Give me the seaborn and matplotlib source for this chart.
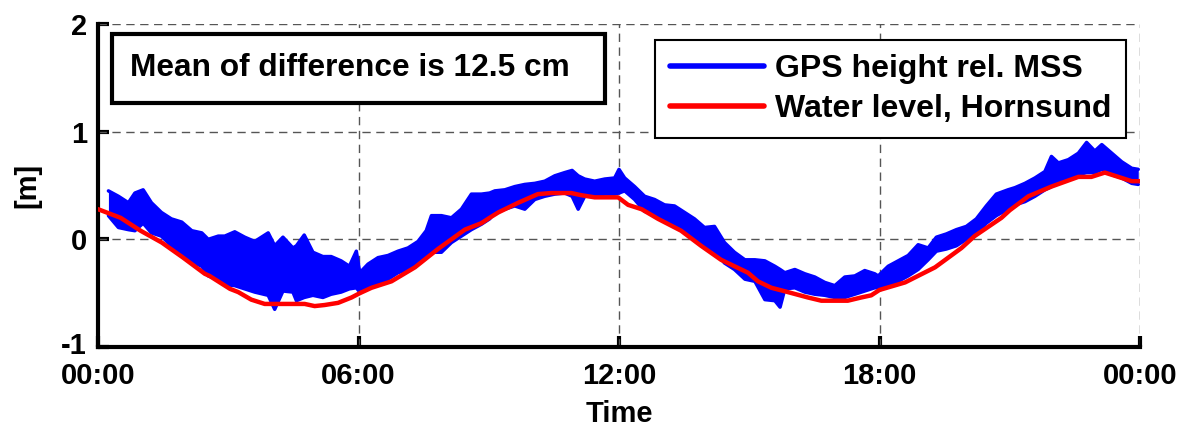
import numpy as np
import pandas as pd
import matplotlib
matplotlib.use("Agg")
import matplotlib.pyplot as plt
from matplotlib.lines import Line2D
from matplotlib.patches import Rectangle
from matplotlib.transforms import ScaledTranslation
import seaborn as sns

# ---------------- data ----------------
# Water level, Hornsund (hours since 00:00, metres)
water_hours = [0.00, 0.52, 0.98, 1.47, 1.96, 2.46, 2.57, 3.04, 3.23, 3.53, 3.84, 4.76,
               4.99, 5.22, 5.53, 5.84, 6.03, 6.30, 6.76, 7.30, 7.83, 8.45, 8.83, 9.02,
               9.22, 9.68, 10.13, 10.44, 10.90, 11.13, 11.44, 11.98, 12.21, 12.52, 12.90,
               13.43, 13.89, 14.35, 14.97, 15.20, 15.51, 15.89, 16.35, 16.66, 17.27, 17.58,
               17.81, 18.00, 18.59, 19.28, 19.89, 20.19, 20.81, 21.00, 21.43, 21.96, 22.58,
               22.88, 23.19, 23.81, 24.00]
water_level = [0.28, 0.20, 0.08, -0.03, -0.17, -0.32, -0.34, -0.46, -0.49, -0.56, -0.60, -0.60,
               -0.62, -0.61, -0.59, -0.54, -0.50, -0.45, -0.39, -0.26, -0.09, 0.09, 0.15, 0.20,
               0.25, 0.34, 0.42, 0.43, 0.43, 0.41, 0.39, 0.39, 0.32, 0.28, 0.19,
               0.08, -0.06, -0.19, -0.31, -0.39, -0.45, -0.49, -0.54, -0.57, -0.57, -0.54,
               -0.52, -0.47, -0.40, -0.26, -0.08, 0.03, 0.20, 0.27, 0.40, 0.49, 0.58,
               0.58, 0.62, 0.54, 0.54]

# GPS height rel. MSS: noisy trace, read as upper / lower envelope of the band
gps_hours = [0.24, 0.47, 0.70, 0.85, 1.04, 1.23, 1.46, 1.69, 1.93, 2.16, 2.39, 2.54, 2.77,
             2.92, 3.15, 3.38, 3.61, 3.92, 4.07, 4.26, 4.49, 4.57, 4.75, 4.95, 5.18, 5.37,
             5.60, 5.79, 5.95, 6.03, 6.22, 6.45, 6.68, 6.91, 7.14, 7.37, 7.56, 7.68, 7.91,
             8.14, 8.37, 8.60, 8.83, 9.02, 9.14, 9.37, 9.60, 9.83, 10.06, 10.29, 10.52,
             10.75, 10.92, 11.06, 11.21, 11.44, 11.67, 11.90, 12.00, 12.13, 12.36, 12.59,
             12.82, 13.05, 13.28, 13.51, 13.74, 13.97, 14.20, 14.43, 14.66, 14.90, 15.13,
             15.36, 15.59, 15.71, 15.82, 16.05, 16.28, 16.51, 16.74, 16.97, 17.20, 17.43,
             17.66, 17.89, 17.97, 18.20, 18.43, 18.66, 18.89, 19.12, 19.31, 19.54, 19.77,
             20.00, 20.23, 20.46, 20.69, 20.96, 21.12, 21.35, 21.58, 21.81, 21.96, 22.12,
             22.35, 22.58, 22.77, 22.96, 23.12, 23.35, 23.58, 23.81, 23.96]
gps_upper = [0.45, 0.40, 0.34, 0.43, 0.46, 0.34, 0.25, 0.19, 0.16, 0.08, 0.06, 0.00, 0.03,
             0.03, 0.07, 0.02, -0.02, 0.06, -0.06, 0.02, -0.08, -0.06, 0.04, -0.12, -0.16, -0.16,
             -0.20, -0.25, -0.11, -0.31, -0.23, -0.17, -0.15, -0.11, -0.08, -0.02, 0.08, 0.22, 0.22,
             0.20, 0.28, 0.42, 0.42, 0.43, 0.45, 0.46, 0.49, 0.51, 0.52, 0.54, 0.59,
             0.62, 0.64, 0.59, 0.56, 0.54, 0.56, 0.57, 0.65, 0.57, 0.49, 0.40,
             0.37, 0.32, 0.31, 0.25, 0.19, 0.11, 0.12, -0.03, -0.12, -0.19, -0.19,
             -0.20, -0.25, -0.28, -0.31, -0.28, -0.32, -0.35, -0.40, -0.43, -0.35, -0.34,
             -0.29, -0.32, -0.34, -0.25, -0.20, -0.15, -0.05, -0.08, 0.02, 0.05, 0.09,
             0.12, 0.19, 0.31, 0.42, 0.46, 0.48, 0.52, 0.57, 0.63, 0.77, 0.71,
             0.74, 0.80, 0.90, 0.82, 0.88, 0.80, 0.72, 0.66, 0.65]
gps_lower = [0.22, 0.11, 0.09, 0.08, 0.15, 0.06, 0.03, -0.06, -0.14, -0.21, -0.25, -0.34, -0.37,
             -0.42, -0.43, -0.46, -0.49, -0.52, -0.65, -0.48, -0.49, -0.57, -0.54, -0.52, -0.54, -0.51,
             -0.49, -0.46, -0.45, -0.49, -0.46, -0.40, -0.37, -0.31, -0.28, -0.21, -0.15, -0.12, -0.12,
             -0.03, 0.03, 0.09, 0.14, 0.19, 0.25, 0.28, 0.31, 0.28, 0.37, 0.40, 0.42,
             0.43, 0.40, 0.28, 0.40, 0.40, 0.42, 0.42, 0.43, 0.45, 0.37, 0.26,
             0.23, 0.17, 0.12, 0.08, 0.02, -0.05, -0.11, -0.22, -0.28, -0.37, -0.39,
             -0.56, -0.57, -0.63, -0.46, -0.45, -0.49, -0.51, -0.52, -0.54, -0.54, -0.51,
             -0.48, -0.45, -0.45, -0.43, -0.39, -0.34, -0.28, -0.19, -0.11, -0.09, -0.06,
             0.00, 0.05, 0.15, 0.22, 0.28, 0.32, 0.35, 0.40, 0.46, 0.49, 0.54,
             0.57, 0.60, 0.62, 0.62, 0.65, 0.60, 0.57, 0.52, 0.51]

x_ticks = [0, 6, 12, 18, 24]
x_tick_labels = ["00:00", "06:00", "12:00", "18:00", "00:00"]
y_ticks = [-1, 0, 1, 2]
label_gps = "GPS height rel. MSS"
label_water = "Water level, Hornsund"
annotation = "Mean of difference is 12.5 cm"

# ---------------- figure ----------------
sns.set_style("white")
plt.rcParams["font.family"] = ["Liberation Sans", "DejaVu Sans"]
plt.rcParams["font.weight"] = "bold"
plt.rcParams["axes.unicode_minus"] = False
for key in ["text.color", "axes.labelcolor", "xtick.color", "ytick.color"]:
    plt.rcParams[key] = "black"

W, H = 1183, 429
fig = plt.figure(figsize=(W / 100, H / 100), dpi=100)
ax = fig.add_axes([98 / W, 1 - 347 / H, (1140 - 98) / W, (347 - 24) / H])

blue = "#0000FF"
red = "#FF0000"

gps_df = pd.DataFrame({"h": gps_hours, "up": gps_upper, "lo": gps_lower})
water_df = pd.DataFrame({"h": water_hours, "v": water_level})

ax.fill_between(gps_df["h"], gps_df["lo"], gps_df["up"], color=blue, lw=0, zorder=2)
sns.lineplot(data=gps_df, x="h", y="up", color=blue, lw=2.5, ax=ax, zorder=2)
sns.lineplot(data=gps_df, x="h", y="lo", color=blue, lw=2.5, ax=ax, zorder=2)
sns.lineplot(data=water_df, x="h", y="v", color=red, lw=3.2, ax=ax, zorder=3)

ax.set_xlim(0, 24)
ax.set_ylim(-1, 2)
ax.set_xticks(x_ticks)
ax.set_xticklabels(x_tick_labels)
ax.set_yticks(y_ticks)

# grid (dashed, includes top/right limits)
for xv in x_ticks[1:]:
    ax.axvline(xv, color="#555555", lw=1.0, ls=(0, (6, 4)), zorder=1)
for yv in y_ticks[1:]:
    ax.axhline(yv, color="#555555", lw=1.0, ls=(0, (6, 4)), zorder=1)

for s in ["top", "right"]:
    ax.spines[s].set_visible(False)
for s in ["left", "bottom"]:
    ax.spines[s].set_linewidth(3.0)
    ax.spines[s].set_color("black")

ax.tick_params(axis="both", direction="in", length=8, width=3, colors="black",
               labelsize=21, left=True, bottom=True)
ax.tick_params(axis="x", pad=11)
ax.tick_params(axis="y", pad=8)
for lab in ax.get_xticklabels() + ax.get_yticklabels():
    lab.set_fontweight("bold")
# nudge the lowest y label up a little so it clears the "00:00" label
ylab0 = ax.get_yticklabels()[0]
ylab0.set_transform(ylab0.get_transform() + ScaledTranslation(0, 3 / 72, fig.dpi_scale_trans))

ax.set_xlabel("Time", fontsize=21, fontweight="bold", labelpad=7)
ax.set_ylabel("[m]", fontsize=21, fontweight="bold", labelpad=14)

# annotation box
fig.patches.append(Rectangle((112 / W, 1 - 103 / H), (605 - 112) / W, (103 - 34) / H,
                             transform=fig.transFigure, fill=True, facecolor="white",
                             edgecolor="black", lw=3, zorder=5))
fig.text(130 / W, 1 - 68 / H, annotation, fontsize=22.8, fontweight="bold",
         va="center", ha="left", zorder=6)

# legend
handles = [Line2D([0], [0], color=blue, lw=4), Line2D([0], [0], color=red, lw=4)]
leg = ax.legend(handles, [label_gps, label_water], loc="upper right",
                bbox_to_anchor=(1126 / W, 1 - 40 / H), bbox_transform=fig.transFigure,
                fancybox=False, framealpha=1, edgecolor="black", borderaxespad=0,
                prop={"size": 23, "weight": "bold"}, handlelength=2.95, handletextpad=0.35,
                labelspacing=0.3, borderpad=0.45)
leg.get_frame().set_linewidth(1.5)
leg.set_zorder(10)

fig.savefig("out.png", dpi=100)
